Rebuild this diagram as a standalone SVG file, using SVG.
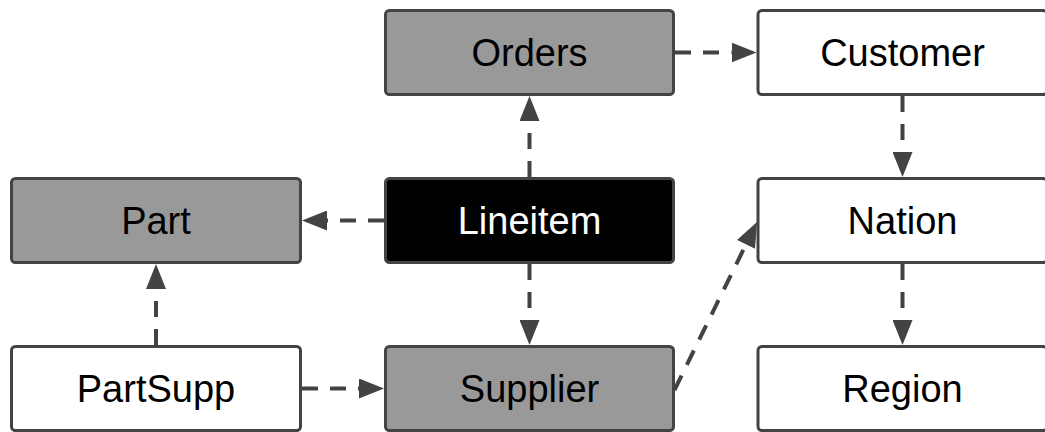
<svg xmlns="http://www.w3.org/2000/svg" width="1045" height="432" viewBox="0 0 1045 432">
  <style>
    .box { stroke: #434343; stroke-width: 3; }
    .gray { fill: #999999; }
    .white { fill: #ffffff; }
    .black { fill: #000000; }
    .label { font-family: "Liberation Sans", Arial, sans-serif; font-size: 38px; text-anchor: middle; fill: #000000; }
    .label.inv { fill: #ffffff; }
    .edge { fill: none; stroke: #434343; stroke-width: 4; stroke-dasharray: 16 12; }
  </style>
  <defs>
    <marker id="arrow" markerUnits="userSpaceOnUse" markerWidth="25" markerHeight="20" viewBox="0 0 25 20" refX="0" refY="10" orient="auto">
      <path d="M0 0 L25 10 L0 20 Z" fill="#434343"/>
    </marker>
  </defs>

  <!-- tables -->
  <g id="orders">
    <rect class="box gray" x="385.5" y="10.5" width="288" height="84" rx="4"/>
    <text class="label" x="529.5" y="65.5">Orders</text>
  </g>
  <g id="customer">
    <rect class="box white" x="758" y="10.5" width="289" height="84" rx="4"/>
    <text class="label" x="902.5" y="65.5">Customer</text>
  </g>
  <g id="part">
    <rect class="box gray" x="11.5" y="178.5" width="289" height="84" rx="4"/>
    <text class="label" x="156" y="233.5">Part</text>
  </g>
  <g id="lineitem">
    <rect class="box black" x="385.5" y="178.5" width="288" height="84" rx="4"/>
    <text class="label inv" x="529.5" y="233.5">Lineitem</text>
  </g>
  <g id="nation">
    <rect class="box white" x="758" y="178.5" width="289" height="84" rx="4"/>
    <text class="label" x="902.5" y="233.5">Nation</text>
  </g>
  <g id="partsupp">
    <rect class="box white" x="11.5" y="346.5" width="289" height="84" rx="4"/>
    <text class="label" x="156" y="401.5">PartSupp</text>
  </g>
  <g id="supplier">
    <rect class="box gray" x="385.5" y="346.5" width="288" height="84" rx="4"/>
    <text class="label" x="529.5" y="401.5">Supplier</text>
  </g>
  <g id="region">
    <rect class="box white" x="758" y="346.5" width="289" height="84" rx="4"/>
    <text class="label" x="902.5" y="401.5">Region</text>
  </g>

  <!-- foreign-key references -->
  <g id="connectors">
    <path class="edge" d="M675 52.5 H731.5" marker-end="url(#arrow)"/>
    <path class="edge" d="M902.5 96 V152" marker-end="url(#arrow)"/>
    <path class="edge" d="M529.5 177 V121" marker-end="url(#arrow)"/>
    <path class="edge" d="M384 220.5 H327" marker-end="url(#arrow)"/>
    <path class="edge" d="M529.5 264 V320" marker-end="url(#arrow)"/>
    <path class="edge" d="M156 345 V289" marker-end="url(#arrow)"/>
    <path class="edge" d="M302 388.5 H359" marker-end="url(#arrow)"/>
    <path class="edge" d="M902.5 264 V320" marker-end="url(#arrow)"/>
    <path class="edge" d="M674.5 390 L746 244.4" marker-end="url(#arrow)"/>
  </g>
</svg>
